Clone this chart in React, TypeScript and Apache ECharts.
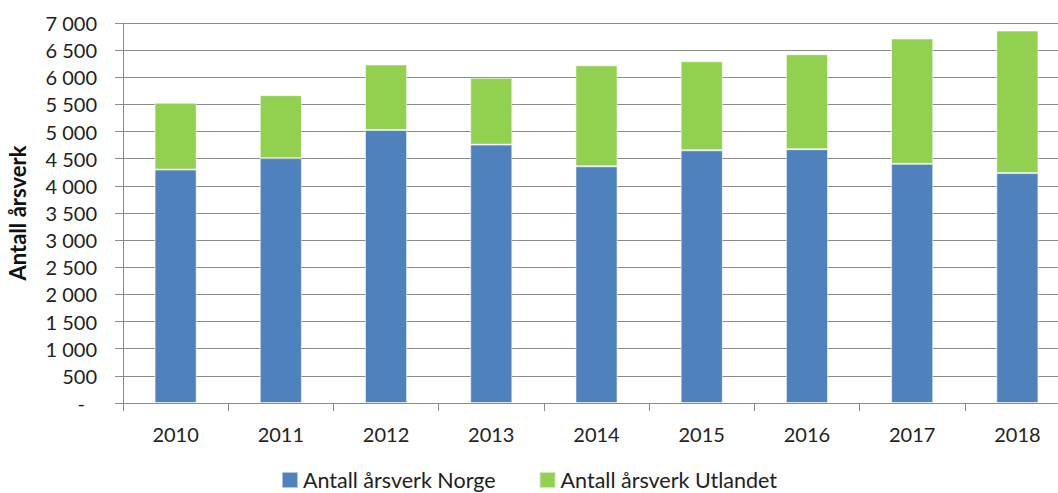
import React, { useEffect, useRef } from "react";
import * as echarts from "echarts";

const years = ["2010", "2011", "2012", "2013", "2014", "2015", "2016", "2017", "2018"];
const norge = [4300, 4510, 5030, 4760, 4360, 4655, 4675, 4405, 4235];
const utlandet = [1230, 1160, 1205, 1230, 1860, 1640, 1750, 2310, 2625];
const seriesNames = ["Antall årsverk Norge", "Antall årsverk Utlandet"];
const yTitle = "Antall årsverk";

const FONT = "Lato";

function fmt(v: number): string {
  if (v === 0) return "{d|-}";
  const s = String(Math.round(v));
  return s.replace(/\B(?=(\d{3})+(?!\d))/g, " ");
}

export default function App() {
  const ref = useRef<HTMLDivElement>(null);
  useEffect(() => {
    if (!ref.current) return;
    const chart = echarts.init(ref.current, undefined, { renderer: "svg" });
    chart.setOption({
      animation: false,
      textStyle: { fontFamily: FONT },
      legend: {
        data: seriesNames,
        top: 469,
        left: "center",
        padding: 0,
        itemWidth: 16,
        itemHeight: 16,
        itemGap: 43,
        icon: "rect",
        textStyle: { fontFamily: FONT, fontSize: 21.5, lineHeight: 22, color: "#222" },
      },
      grid: {
        left: 123,
        top: 23,
        width: 947,
        height: 380,
        containLabel: false,
        outerBoundsMode: "none",
      },
      xAxis: {
        type: "category",
        data: years,
        axisLine: { lineStyle: { color: "#8c8c8c", width: 1 } },
        axisTick: { show: true, length: 8, lineStyle: { color: "#8c8c8c" } },
        axisLabel: { fontFamily: FONT, fontSize: 20, color: "#222", margin: 21 },
      },
      yAxis: {
        type: "value",
        min: 0,
        max: 7000,
        interval: 500,
        name: yTitle,
        nameLocation: "middle",
        nameGap: 95,
        nameTextStyle: { fontFamily: FONT, fontSize: 22, fontWeight: "bold", color: "#111" },
        axisLine: { show: true, lineStyle: { color: "#8c8c8c", width: 1 } },
        axisTick: { show: true, length: 8, lineStyle: { color: "#8c8c8c" } },
        splitLine: { lineStyle: { color: "#8c8c8c", width: 1 } },
        axisLabel: {
          fontFamily: FONT,
          fontSize: 20,
          color: "#222",
          margin: 26,
          formatter: (v: number) => fmt(v),
          rich: { d: { fontFamily: FONT, fontSize: 20, color: "#222", padding: [0, 12, 0, 0] } },
        },
      },
      series: [
        {
          name: seriesNames[0],
          type: "bar",
          stack: "total",
          data: norge,
          barWidth: "40%",
          itemStyle: { color: "#4F81BD", borderColor: "rgba(255,255,255,0.55)", borderWidth: 1 },
        },
        {
          name: seriesNames[1],
          type: "bar",
          stack: "total",
          data: utlandet,
          barWidth: "40%",
          itemStyle: { color: "#92D050", borderColor: "rgba(255,255,255,0.55)", borderWidth: 1 },
        },
      ],
    });
    return () => chart.dispose();
  }, []);
  return <div ref={ref} style={{ width: 1058, height: 493, position: "absolute", left: 0, top: 0 }} />;
}
